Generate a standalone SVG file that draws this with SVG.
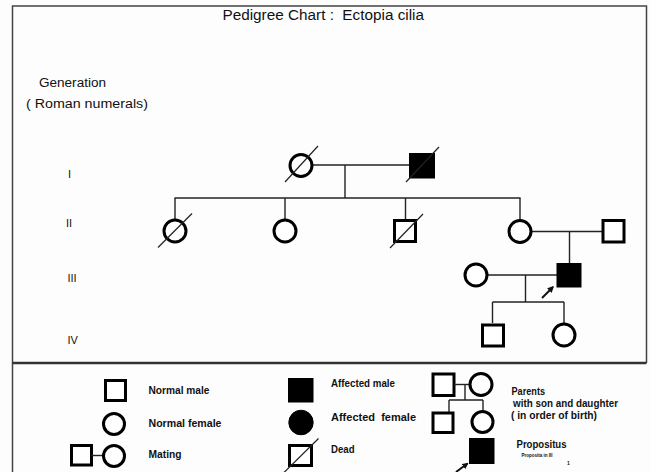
<svg xmlns="http://www.w3.org/2000/svg" width="651" height="472" viewBox="0 0 651 472">
<defs>
<style>
.bg{fill:#fdfdfd}
.frame{stroke:#444;stroke-width:1.5;fill:none}
.sep{stroke:#333;stroke-width:2.5}
.n{fill:#fff;stroke:#000;stroke-width:3}
.af{fill:#000;stroke:#000;stroke-width:1}
.c{stroke:#222;stroke-width:1.4;fill:none}
.sl{stroke:#222;stroke-width:1.2}
.ar{stroke:#111;stroke-width:2;marker-end:url(#ah)}
.t{font-family:"Liberation Sans",Arial,sans-serif;fill:#111}
.h{font-size:14px}
.g{font-size:12.5px}
.r{font-size:11px}
.lg{font-size:10px;font-weight:bold}
.tiny{font-size:5px;font-weight:bold}
</style>
<marker id="ah" viewBox="0 0 10 10" refX="8" refY="5" markerWidth="3.2" markerHeight="3.2" orient="auto" markerUnits="strokeWidth">
<path d="M0,0 L10,5 L0,10 z" fill="#111"/>
</marker>
</defs>
<rect class="bg" x="0" y="0" width="651" height="472"/>
<g id="frame">
<path class="frame" d="M12.5,480 V6 H646.5 V363"/>
<line class="sep" x1="12.5" y1="363" x2="646.5" y2="363"/>
</g>
<g id="labels">
<text class="t h" x="222.5" y="20" textLength="201.5" lengthAdjust="spacingAndGlyphs">Pedigree Chart :&#160; Ectopia cilia</text>
<text class="t g" x="39" y="87" textLength="67" lengthAdjust="spacingAndGlyphs">Generation</text>
<text class="t g" x="26" y="107.5" textLength="122" lengthAdjust="spacingAndGlyphs">( Roman numerals)</text>
<text class="t r" x="68" y="178">I</text>
<text class="t r" x="66" y="227">II</text>
<text class="t r" x="67.5" y="282">III</text>
<text class="t r" x="67.5" y="344">IV</text>
</g>
<g id="connectors">
<line class="c" x1="312" y1="165" x2="409" y2="165"/>
<line class="c" x1="345" y1="165" x2="345" y2="198"/>
<line class="c" x1="174.5" y1="198" x2="520.5" y2="198"/>
<line class="c" x1="175" y1="198" x2="175" y2="219"/>
<line class="c" x1="285" y1="198" x2="285" y2="219"/>
<line class="c" x1="405.5" y1="198" x2="405.5" y2="219"/>
<line class="c" x1="520" y1="198" x2="520" y2="219.5"/>
<line class="c" x1="532" y1="231.5" x2="602" y2="231.5"/>
<line class="c" x1="569.5" y1="231.5" x2="569.5" y2="263"/>
<line class="c" x1="488" y1="275" x2="557" y2="275"/>
<line class="c" x1="525.5" y1="275" x2="525.5" y2="302"/>
<line class="c" x1="492.5" y1="302" x2="564" y2="302"/>
<line class="c" x1="492.5" y1="302" x2="492.5" y2="323"/>
<line class="c" x1="564" y1="302" x2="564" y2="323"/>
<line class="ar" x1="542" y1="298" x2="553" y2="287"/>
</g>
<g id="I-1">
<circle class="n" cx="301" cy="165.5" r="11"/>
<line class="sl" x1="285" y1="182" x2="318" y2="146"/>
</g>
<g id="I-2">
<rect class="af" x="409.5" y="153.5" width="25" height="24.5"/>
<line class="sl" x1="406" y1="182" x2="439" y2="147"/>
</g>
<g id="II-1">
<circle class="n" cx="175" cy="231" r="11"/>
<line class="sl" x1="158" y1="247.5" x2="192" y2="213.5"/>
</g>
<g id="II-2">
<circle class="n" cx="285" cy="231" r="11"/>
</g>
<g id="II-3">
<rect class="n" x="394.5" y="220.5" width="21" height="21"/>
<line class="sl" x1="390" y1="248" x2="423" y2="214"/>
</g>
<g id="II-4">
<circle class="n" cx="520" cy="231.5" r="11"/>
</g>
<g id="II-5">
<rect class="n" x="603" y="220.5" width="21" height="21.5"/>
</g>
<g id="III-1">
<circle class="n" cx="476" cy="275" r="11"/>
</g>
<g id="III-2">
<rect class="af" x="557" y="263.5" width="24" height="23.5"/>
</g>
<g id="IV-1">
<rect class="n" x="482.5" y="325" width="21" height="21"/>
</g>
<g id="IV-2">
<circle class="n" cx="564" cy="335" r="11"/>
</g>
<g id="legend">
<rect class="n" x="105.5" y="380.5" width="20" height="20"/>
<text class="t lg" x="148.5" y="394" textLength="61" lengthAdjust="spacingAndGlyphs">Normal male</text>
<circle class="n" cx="114" cy="424" r="10.5"/>
<text class="t lg" x="148.5" y="427" textLength="73" lengthAdjust="spacingAndGlyphs">Normal female</text>
<rect class="n" x="71.5" y="445.5" width="20" height="19.5"/>
<line class="c" x1="91.5" y1="455.5" x2="103.5" y2="455.5"/>
<circle class="n" cx="114" cy="456" r="10.5"/>
<text class="t lg" x="148.5" y="458" textLength="33" lengthAdjust="spacingAndGlyphs">Mating</text>
<rect class="af" x="288.5" y="378.5" width="24.5" height="23.5"/>
<text class="t lg" x="331" y="387" textLength="64" lengthAdjust="spacingAndGlyphs">Affected male</text>
<ellipse class="af" cx="301" cy="422.5" rx="12.2" ry="12.3"/>
<text class="t lg" x="331" y="420.5" textLength="85" lengthAdjust="spacingAndGlyphs">Affected&#160; female</text>
<rect class="n" x="289.5" y="445.5" width="22" height="20"/>
<line class="sl" x1="284" y1="472.5" x2="318.5" y2="438.5"/>
<text class="t lg" x="331" y="453" textLength="23.5" lengthAdjust="spacingAndGlyphs">Dead</text>
<rect class="n" x="433" y="374" width="21" height="21.5"/>
<line class="c" x1="454" y1="384.5" x2="470" y2="384.5"/>
<circle class="n" cx="481" cy="384.5" r="11"/>
<line class="c" x1="465" y1="384.5" x2="465" y2="400"/>
<line class="c" x1="449" y1="400" x2="483" y2="400"/>
<line class="c" x1="449" y1="400" x2="449" y2="412"/>
<line class="c" x1="483" y1="400" x2="483" y2="410"/>
<rect class="n" x="433" y="413" width="20" height="19.5"/>
<circle class="n" cx="482.5" cy="422" r="10.5"/>
<text class="t lg" x="511.5" y="395" textLength="33.5" lengthAdjust="spacingAndGlyphs">Parents</text>
<text class="t lg" x="513" y="406.5" textLength="105" lengthAdjust="spacingAndGlyphs">with son and daughter</text>
<text class="t lg" x="511" y="419" textLength="86" lengthAdjust="spacingAndGlyphs">( in order of birth)</text>
<rect class="af" x="469.5" y="438.5" width="24.5" height="25"/>
<line class="ar" x1="456" y1="472" x2="467.5" y2="463.5"/>
<text class="t lg" x="516.5" y="447.5" textLength="50" lengthAdjust="spacingAndGlyphs">Propositus</text>
<text class="t tiny" x="521.5" y="457" textLength="31" lengthAdjust="spacingAndGlyphs">Proposita in III</text>
<text class="t tiny" x="567" y="465">1</text>
</g>
</svg>
